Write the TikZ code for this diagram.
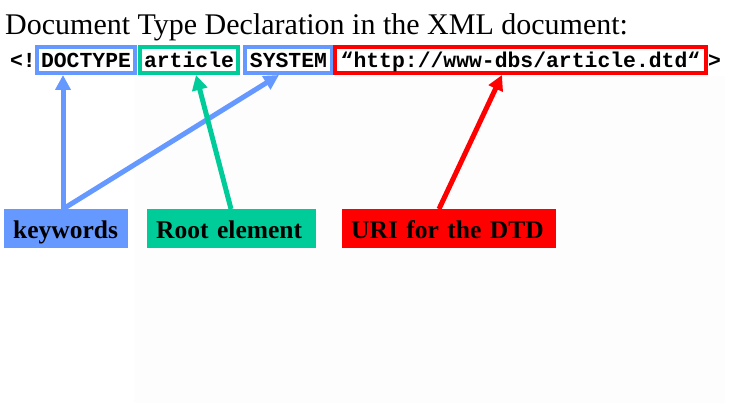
\documentclass[tikz,border=0pt]{standalone}
\usepackage{fontspec}
\setmainfont{Liberation Serif}
\setmonofont{Liberation Mono}
\usetikzlibrary{positioning,arrows.meta}
\definecolor{kwblue}{HTML}{6699FF}
\definecolor{rootgreen}{HTML}{00CC99}
\definecolor{urired}{HTML}{FF0000}
\definecolor{slidegray}{HTML}{FDFDFD}
\tikzset{
code/.style={font=\fontsize{21.4}{24}\ttfamily\bfseries,inner sep=0pt,
  text height=16pt,text depth=0pt},
codebox/.style={code,draw=#1,line width=4pt,minimum height=26pt},
tagbox/.style={fill=#1,anchor=north west,font=\fontsize{25.5}{28}\bfseries,
  inner xsep=9pt,inner ysep=0pt,minimum height=39pt,align=left,
  text height=23.5pt,text depth=4.5pt},
pointer/.style={draw=#1,line width=5pt,-{Triangle[length=15pt,width=15pt]}}
}
\begin{document}
\begin{tikzpicture}[x=1pt,y=-1pt]
\useasboundingbox (0,0) rectangle (733,403);
\fill[slidegray] (134,76) rectangle (725,403);
\node[anchor=base west,inner sep=0pt,font=\fontsize{30}{34}\selectfont]
  (title) at (5,35) {Document Type Declaration in the XML document:};
\node[code,anchor=east] (open) at (36,60) {<!};
\node[codebox=kwblue,minimum width=98pt] (doctype) at (86,60) {DOCTYPE};
\node[codebox=rootgreen,minimum width=98pt] (article) at (189,60) {article};
\node[codebox=kwblue,minimum width=87pt] (system) at (288.5,60) {SYSTEM};
\node[codebox=urired,minimum width=371pt] (uri) at (520.5,60) {“http://www-dbs/article.dtd“};
\node[code,anchor=west] (close) at (708,60) {>};
\node[tagbox=kwblue,text width=106pt] (keywords) at (4,209) {keywords};
\node[tagbox=rootgreen,text width=151pt] (root) at (147,209) {Root element};
\node[tagbox=urired,text width=196pt] (dtd) at (342,209) {URI for the DTD};
\draw[pointer=kwblue] (keywords.north -| 63,0) -- (doctype.south -| 63,0);
\draw[pointer=kwblue] (keywords.north -| 63,0) -- (system.south -| 279,0);
\draw[pointer=rootgreen] (root.north -| 231,0) -- (article.south -| 196,0);
\draw[pointer=urired] (dtd.north -| 439,0) -- (uri.south -| 502,0);
\end{tikzpicture}
\end{document}
